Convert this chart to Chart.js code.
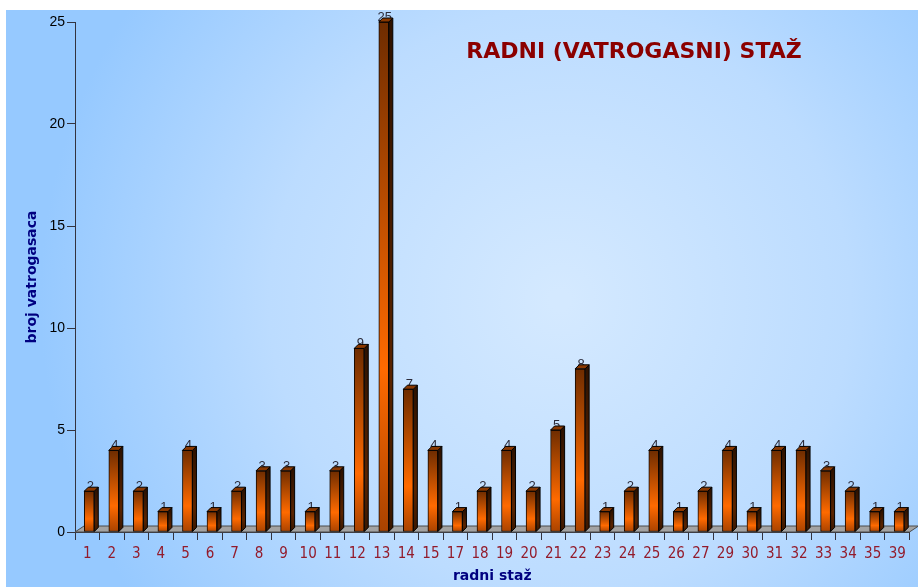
<!DOCTYPE html>
<html>
<head>
<meta charset="utf-8">
<script src="https://cdn.jsdelivr.net/npm/chart.js@4/dist/chart.umd.min.js"></script>
<style>
html,body{margin:0;padding:0;background:#fff;}
#wrap{width:918px;height:587px;position:relative;}
</style>
</head>
<body>
<div id="wrap"><canvas id="c" width="918" height="587"></canvas></div>
<script>
const categories = ['1','2','3','4','5','6','7','8','9','10','11','12','13','14','15','17','18','19','20','21','22','23','24','25','26','27','29','30','31','32','33','34','35','39'];
const values = [2,4,2,1,4,1,2,3,3,1,3,9,25,7,4,1,2,4,2,5,8,1,2,4,1,2,4,1,4,4,3,2,1,1];
const yTicks = [0,5,10,15,20,25];
const chartTitle = 'RADNI (VATROGASNI) STAŽ';
const xTitle = 'radni staž';
const yTitle = 'broj vatrogasaca';

const DEPTH = 4;

const bgPlugin = {
  id: 'bg',
  beforeDraw(chart) {
    const ctx = chart.ctx;
    ctx.save();
    ctx.fillStyle = '#ffffff';
    ctx.fillRect(0, 0, chart.width, chart.height);
    const g = ctx.createRadialGradient(560, 300, 10, 560, 300, 520);
    g.addColorStop(0, '#d4e9ff');
    g.addColorStop(0.55, '#bcdcff');
    g.addColorStop(1, '#96c9ff');
    ctx.fillStyle = g;
    ctx.fillRect(6, 10, chart.width - 6, chart.height - 10);
    ctx.restore();
  }
};

const floorPlugin = {
  id: 'floor',
  afterDatasetsUpdate(chart) {
    const meta = chart.getDatasetMeta(0);
    meta.data.forEach(el => { el.x += 2; });
  },
  beforeDatasetsDraw(chart) {
    const ctx = chart.ctx;
    const xs = chart.scales.x, ys = chart.scales.y;
    const B = ys.getPixelForValue(0);
    const L = xs.left, R = xs.right;
    ctx.save();
    ctx.beginPath();
    ctx.moveTo(L, B);
    ctx.lineTo(R, B);
    ctx.lineTo(R + 9, B - 6);
    ctx.lineTo(L + 9, B - 6);
    ctx.closePath();
    ctx.fillStyle = '#a3a3a3';
    ctx.fill();
    ctx.strokeStyle = '#4a4a4a';
    ctx.lineWidth = 1;
    ctx.stroke();
    ctx.restore();
  },
  afterDatasetsDraw(chart) {
    const ctx = chart.ctx;
    const meta = chart.getDatasetMeta(0);
    ctx.save();
    meta.data.forEach((el, i) => {
      const p = el.getProps(['x', 'y', 'base', 'width'], true);
      const l = p.x - p.width / 2, r = p.x + p.width / 2;
      const top = p.y, base = p.base;
      // side face
      ctx.beginPath();
      ctx.moveTo(r, top);
      ctx.lineTo(r + DEPTH, top - DEPTH);
      ctx.lineTo(r + DEPTH, base - DEPTH);
      ctx.lineTo(r, base);
      ctx.closePath();
      const sg = ctx.createLinearGradient(0, top, 0, base);
      sg.addColorStop(0, '#2e1200');
      sg.addColorStop(0.7, '#5a2400');
      sg.addColorStop(1, '#3a1700');
      ctx.fillStyle = sg;
      ctx.fill();
      ctx.strokeStyle = '#000';
      ctx.lineWidth = 1;
      ctx.stroke();
      // value label
      ctx.font = '13px "Liberation Sans", Arial, sans-serif';
      ctx.fillStyle = '#2b2b3a';
      ctx.textAlign = 'center';
      ctx.textBaseline = 'alphabetic';
      ctx.fillText(String(values[i]), p.x + 1, top - 1);
      // top face
      ctx.beginPath();
      ctx.moveTo(l, top);
      ctx.lineTo(l + DEPTH, top - DEPTH);
      ctx.lineTo(r + DEPTH, top - DEPTH);
      ctx.lineTo(r, top);
      ctx.closePath();
      ctx.fillStyle = '#8a3800';
      ctx.fill();
      ctx.stroke();
    });
    ctx.restore();
  }
};

const titlePlugin = {
  id: 'inTitle',
  afterDraw(chart) {
    const ctx = chart.ctx;
    ctx.save();
    ctx.font = 'bold 22px "DejaVu Sans", Verdana, sans-serif';
    ctx.fillStyle = '#8b0000';
    ctx.textAlign = 'center';
    ctx.textBaseline = 'middle';
    ctx.fillText(chartTitle, 634, 52);
    ctx.restore();
  }
};

function barFill(c) {
  if (c.type !== 'data') return '#ff6600';
  const chart = c.chart;
  const ys = chart.scales.y;
  if (!ys) return '#ff6600';
  const top = ys.getPixelForValue(c.raw);
  const base = ys.getPixelForValue(0);
  if (!isFinite(top) || !isFinite(base) || top === base) return '#ff6600';
  const g = chart.ctx.createLinearGradient(0, top, 0, base);
  g.addColorStop(0, '#6e2c00');
  g.addColorStop(0.68, '#ff6a00');
  g.addColorStop(1, '#a84200');
  return g;
}

new Chart(document.getElementById('c'), {
  type: 'bar',
  data: {
    labels: categories,
    datasets: [{
      data: values,
      backgroundColor: barFill,
      borderColor: '#140800',
      borderWidth: 1,
      borderSkipped: false,
      barThickness: 10
    }]
  },
  options: {
    responsive: false,
    animation: false,
    events: [],
    layout: { padding: { left: 0, top: 22, right: 8.5, bottom: 0 } },
    plugins: {
      legend: { display: false },
      tooltip: { enabled: false },
      title: { display: false }
    },
    scales: {
      x: {
        offset: true,
        afterFit(s) { s.height = 55; },
        grid: { drawOnChartArea: false, drawTicks: true, tickLength: 8, color: '#33333f', offset: true },
        border: { display: true, color: '#33333f', width: 1 },
        ticks: {
          color: '#931b2b',
          padding: 5,
          autoSkip: false,
          maxRotation: 0,
          font: { family: '"DejaVu Sans Condensed", "Liberation Sans", sans-serif', size: 15 }
        },
        title: {
          display: true,
          text: xTitle,
          color: '#000080',
          padding: { top: 0, bottom: 2 },
          font: { family: '"DejaVu Sans", Verdana, sans-serif', size: 14, weight: 'bold' }
        }
      },
      y: {
        min: 0,
        max: 25,
        afterFit(s) { s.width = 75; },
        afterBuildTicks(s) { s.ticks = yTicks.map(v => ({ value: v })); },
        grid: { drawOnChartArea: false, drawTicks: true, tickLength: 8, color: '#33333f' },
        border: { display: true, color: '#33333f', width: 1 },
        ticks: {
          color: '#000000',
          padding: 2,
          font: { family: '"Liberation Sans", Arial, sans-serif', size: 14 }
        },
        title: {
          display: true,
          text: yTitle,
          color: '#000080',
          padding: { top: 24, bottom: 0 },
          font: { family: '"DejaVu Sans", Verdana, sans-serif', size: 14, weight: 'bold' }
        }
      }
    }
  },
  plugins: [bgPlugin, floorPlugin, titlePlugin]
});
</script>
</body>
</html>
